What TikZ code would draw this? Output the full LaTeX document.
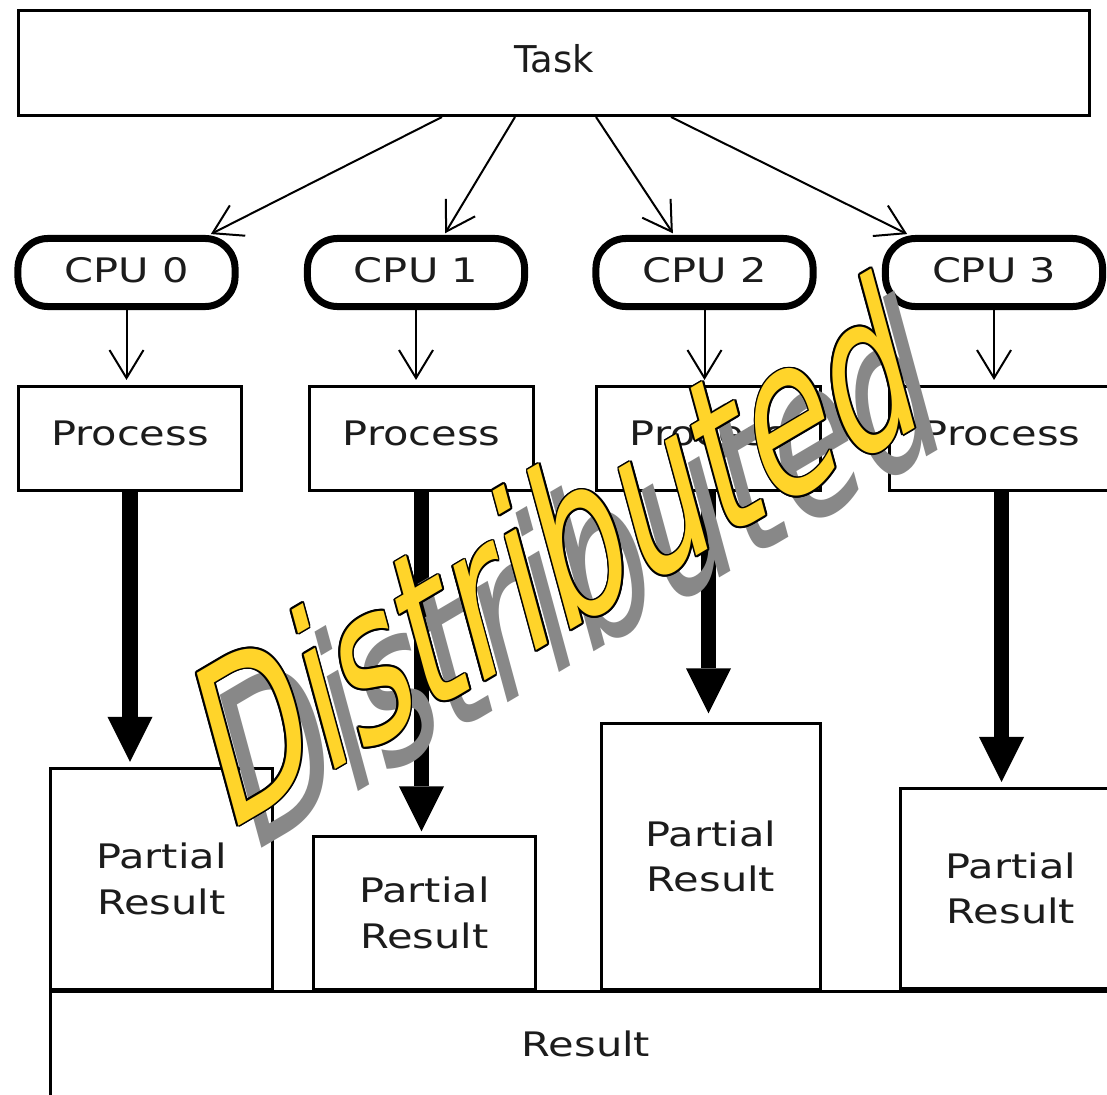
\documentclass[tikz,border=0pt]{standalone}
\usepackage{fontspec}
\usetikzlibrary{arrows.meta}
\newfontfamily\labfont[FakeStretch=1.23]{DejaVu Sans}
\newfontfamily\taskfont{DejaVu Sans}
\newfontfamily\distfont{DejaVu Sans}
\definecolor{distyellow}{RGB}{255,212,42}
\definecolor{shadowgray}{RGB}{136,136,136}
\definecolor{txt}{RGB}{28,28,28}
\tikzset{
  box/.style={draw, line width=0.03cm, rectangle, inner sep=0pt, align=center,
    text=txt, font=\labfont\fontsize{9.6}{12.9}\selectfont},
  procbox/.style={box, minimum width=2.23cm, minimum height=1.04cm, text depth=0.115cm},
  prbox/.style={box, minimum width=2.21cm},
  cpubox/.style={draw, line width=0.07cm, rounded corners=0.3cm, inner sep=0pt,
    minimum width=2.17cm, minimum height=0.68cm, text depth=0.05cm,
    text=txt, font=\labfont\fontsize{9.6}{12.9}\selectfont},
  thinarr/.style={line width=0.02cm, -{Straight Barb[length=0.28cm, width=0.34cm]}},
  thickarr/.style={line width=0.15cm, -{Triangle[length=0.45cm, width=0.45cm, line width=0pt]}},
  distbase/.style={inner sep=0pt, font=\distfont\fontsize{20}{24}\selectfont,
    cm={1.79,1.053,-0.811,2.983,(0,0)}}
}
\begin{document}
\begin{tikzpicture}[x=0.01cm,y=-0.01cm]
\useasboundingbox (0,0) rectangle (1107,1094);
\fill[white] (0,0) rectangle (1107,1094);
\clip (0,0) rectangle (1107,1094);

% Task
\node[box, font=\taskfont\fontsize{10.5}{12.6}\selectfont, minimum width=10.71cm,
      minimum height=1.05cm, text depth=0.094cm] (task) at (554,63) {Task};

% CPUs
\node[cpubox] (c0) at (126.5,272.5) {CPU 0};
\node[cpubox] (c1) at (416,272.5) {CPU 1};
\node[cpubox] (c2) at (704.5,272.5) {CPU 2};
\node[cpubox] (c3) at (994,272.5) {CPU 3};

% Process
\node[procbox] (p0) at (130,438.5) {Process};
\node[procbox] (p1) at (421.5,438.5) {Process};
\node[procbox] (p2) at (708.5,438.5) {Process};
\node[procbox] (p3) at (1001.5,438.5) {Process};

% Result
\node[box, minimum width=10.71cm, minimum height=1.06cm, text depth=0.03cm] (res) at (586,1045) {Result};

% Partial results
\node[prbox, minimum height=2.21cm] (r0) at (161.5,879) {Partial\\Result};
\node[prbox, minimum height=1.52cm] (r1) at (424.5,913) {Partial\\Result};
\node[prbox, minimum width=2.18cm, minimum height=2.65cm] (r2) at (711,856.5) {Partial\\Result};
\node[prbox, minimum height=2.00cm] (r3) at (1011,888.5) {Partial\\Result};

% Task -> CPU
\draw[thinarr, shorten >=0.02cm] ([xshift=-1.12cm]task.south) -- ([xshift=0.825cm]c0.north);
\draw[thinarr, shorten >=0.02cm] ([xshift=-0.39cm]task.south) -- ([xshift=0.28cm]c1.north);
\draw[thinarr, shorten >=0.02cm] ([xshift=0.42cm]task.south) -- ([xshift=-0.305cm]c2.north);
\draw[thinarr, shorten >=0.02cm] ([xshift=1.17cm]task.south) -- ([xshift=-0.85cm]c3.north);

% CPU -> Process
\draw[thinarr, shorten >=0.05cm] (c0.south) -- (c0.south |- p0.north);
\draw[thinarr, shorten >=0.05cm] (c1.south) -- (c1.south |- p1.north);
\draw[thinarr, shorten >=0.05cm] (c2.south) -- (c2.south |- p2.north);
\draw[thinarr, shorten >=0.05cm] (c3.south) -- (c3.south |- p3.north);

% Process -> Partial result
\draw[thickarr, shorten >=0.05cm] (p0.south) -- (p0.south |- r0.north);
\draw[thickarr, shorten >=0.04cm] (p1.south) -- (p1.south |- r1.north);
\draw[thickarr, shorten >=0.09cm] (p2.south) -- (p2.south |- r2.north);
\draw[thickarr, shorten >=0.05cm] (p3.south) -- (p3.south |- r3.north);

% Distributed overlay
\node[shift={(0.23cm,-0.22cm)}, distbase, text=shadowgray] (dshadow) at (555,549) {Distributed};
\foreach \a in {0,30,...,330} {
  \node[shift={(\a:0.018cm)}, distbase, text=black] (dout\a) at (555,549) {Distributed};
}
\node[distbase, text=distyellow] (dist) at (555,549) {Distributed};
\end{tikzpicture}
\end{document}
